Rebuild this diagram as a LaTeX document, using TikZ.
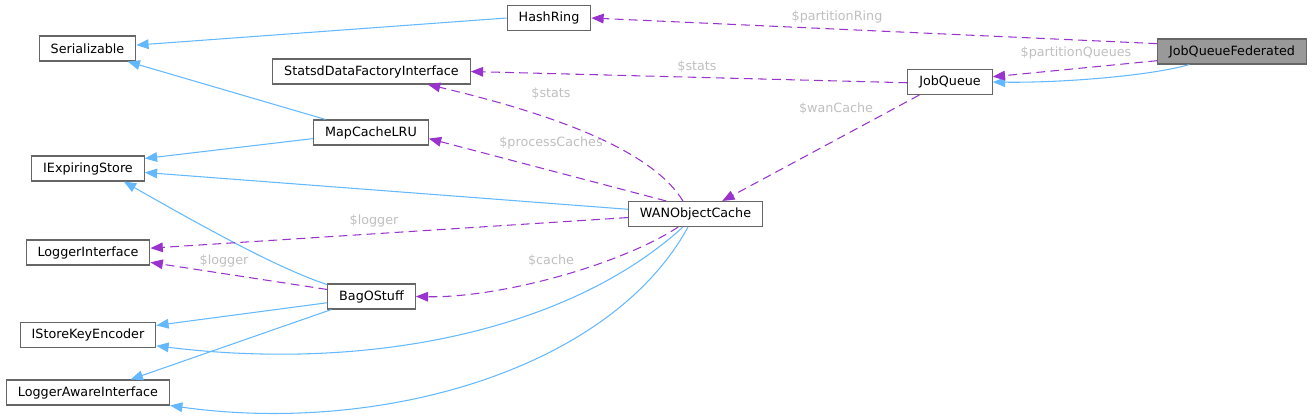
\documentclass[tikz,border=0pt]{standalone}
\usepackage{fontspec}
\setmainfont{DejaVu Sans}
\usetikzlibrary{arrows.meta}
\definecolor{inhblue}{HTML}{63B8FF}
\definecolor{usepurple}{HTML}{9A32CD}
\definecolor{boxgray}{HTML}{666666}
\definecolor{lblgray}{HTML}{BFBFBF}
\definecolor{curfill}{HTML}{999999}

\begin{document}
\begin{tikzpicture}[x=0.02cm,y=-0.02cm,
  every node/.style={font=\fontsize{7.25}{8.5}\selectfont},
  cls/.style={draw=boxgray,fill=white,line width=0.6pt,minimum height=0.5cm,inner xsep=0.23cm,inner ysep=0pt},
  inh/.style={draw=inhblue,line width=0.6pt,-{Triangle[length=7pt,width=5.5pt]}},
  uses/.style={draw=usepurple,line width=0.6pt,dash pattern=on 5pt off 3pt,-{Triangle[length=7pt,width=5.5pt]}},
  lbl/.style={text=lblgray,inner sep=0pt}]
\useasboundingbox (0,0) rectangle (1312,417);
\node[cls] (hashring) at (549,18) {HashRing};
\node[cls] (serial) at (87.5,48.5) {Serializable};
\node[cls] (statsd) at (371.5,71.5) {StatsdDataFactoryInterface};
\node[cls] (jobqueue) at (950,82) {JobQueue};
\node[cls,fill=curfill] (jqf) at (1232,51.5) {JobQueueFederated};
\node[cls] (maplru) at (371,132.5) {MapCacheLRU};
\node[cls] (iexp) at (88,168.5) {IExpiringStore};
\node[cls] (wan) at (695.5,214) {WANObjectCache};
\node[cls] (loggeri) at (88,252.5) {LoggerInterface};
\node[cls] (bag) at (371.5,296.5) {BagOStuff};
\node[cls] (iskey) at (88,335) {IStoreKeyEncoder};
\node[cls] (lai) at (88,392.5) {LoggerAwareInterface};
\draw[inh] (hashring.west) -- (serial.4);
\draw[inh] (maplru.164) -- (serial.-18);
\draw[inh] (maplru.186) -- (iexp.10);
\draw[inh] (wan.176) -- (iexp.-4);
\draw[inh] (bag.165) .. controls (290,272) and (240,248) .. (iexp.-20);
\draw[inh] (bag.188) -- (iskey.8);
\draw[inh] (bag.198) -- (lai.17);
\draw[inh] (wan.226) .. controls (570,330) and (370,372) .. (iskey.-9);
\draw[inh] (wan.240) .. controls (610,370) and (380,435) .. (lai.-9);
\draw[inh] (jqf.197) .. controls (1150,76) and (1060,83) .. (jobqueue.east);
\draw[uses] (jqf.174) -- (hashring.east);
\draw[uses] (jqf.187) -- (jobqueue.7);
\draw[uses] (jobqueue.181) -- (statsd.east);
\draw[uses] (jobqueue.203) -- (wan.26);
\draw[uses] (wan.134) .. controls (655,155) and (570,118) .. (statsd.-13);
\draw[uses] (wan.156) -- (maplru.-6);
\draw[uses] (wan.183) -- (loggeri.4);
\draw[uses] (bag.171) -- (loggeri.-9);
\draw[uses] (wan.217) .. controls (620,265) and (500,298) .. (bag.east);
\node[lbl] (lpring) at (837,17) {\$partitionRing};
\node[lbl] (lpqueues) at (1076,53) {\$partitionQueues};
\node[lbl] (lstatsjq) at (697,67) {\$stats};
\node[lbl] (lwancache) at (836,109) {\$wanCache};
\node[lbl] (lstatswan) at (551,94) {\$stats};
\node[lbl] (lprocess) at (551,143) {\$processCaches};
\node[lbl] (lloggerwan) at (374,221) {\$logger};
\node[lbl] (lloggerbag) at (224,261) {\$logger};
\node[lbl] (lcache) at (551,261) {\$cache};
\end{tikzpicture}
\end{document}
